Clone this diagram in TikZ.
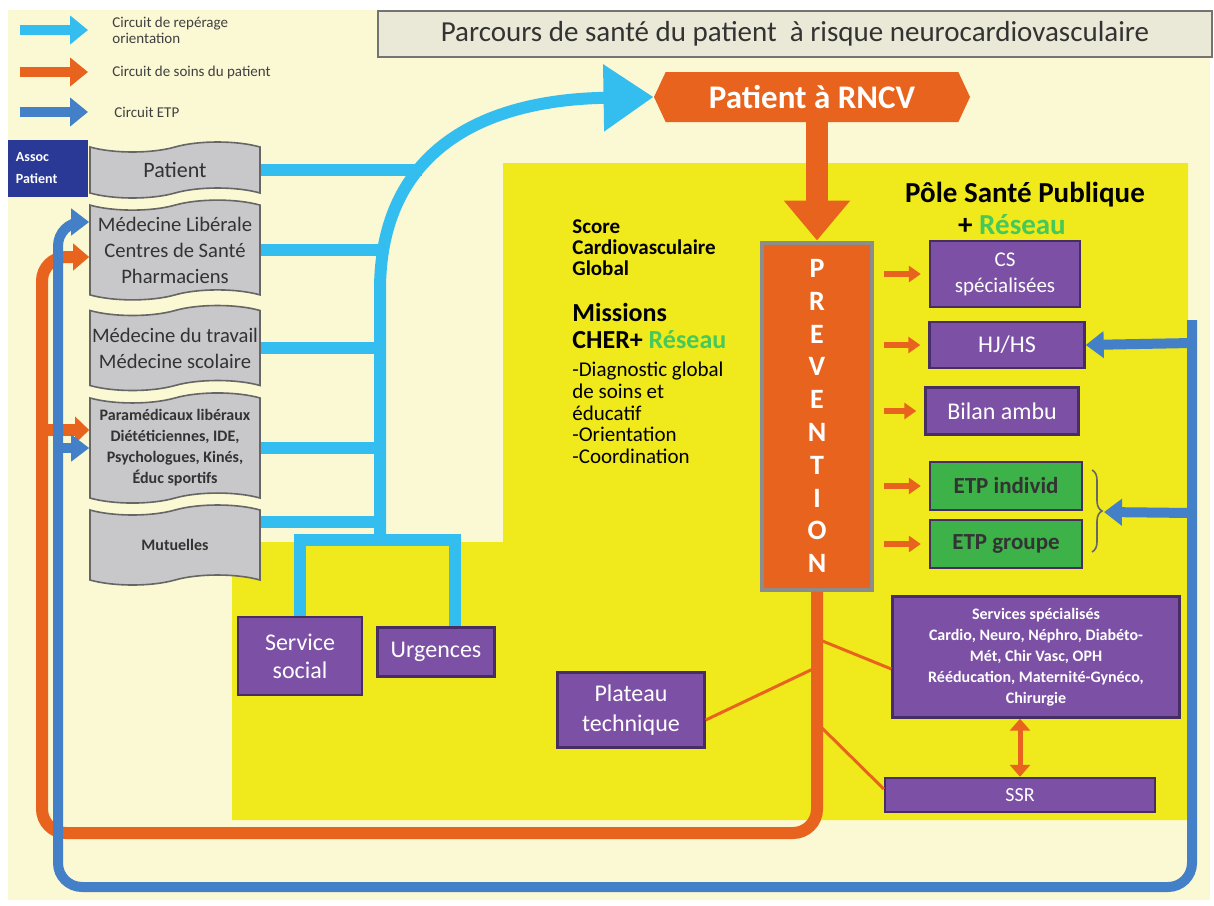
\documentclass[tikz,border=0pt]{standalone}
\usepackage{fontspec}
\setmainfont{Carlito}
\usetikzlibrary{arrows.meta, positioning, shapes.symbols, decorations.pathreplacing, calc}

\definecolor{creme}{RGB}{251,248,212}
\definecolor{jaune}{RGB}{240,233,28}
\definecolor{cyanc}{RGB}{52,190,240}
\definecolor{orangec}{RGB}{232,100,30}
\definecolor{bleuc}{RGB}{68,128,200}
\definecolor{violet}{RGB}{124,80,164}
\definecolor{violetfonce}{RGB}{70,45,100}
\definecolor{vert}{RGB}{60,178,72}
\definecolor{marine}{RGB}{42,56,150}
\definecolor{gris}{RGB}{200,200,202}
\definecolor{reseau}{RGB}{70,200,90}
\definecolor{titre}{RGB}{234,232,214}

\begin{document}
\begin{tikzpicture}[x=0.5pt, y={(0pt,-0.5pt)},
  bande/.style={tape, draw=black!60, fill=gris, line width=0.8pt, minimum width=85pt, inner xsep=0pt, tape bend height=5pt, align=center, text=black!80},
  boite/.style={draw=violetfonce, fill=violet, line width=1.2pt, text=white, align=center, inner sep=1pt},
  boiteverte/.style={boite, fill=vert, text=black!80, font=\bfseries\fontsize{11.5}{13}\selectfont},
  lcyan/.style={draw=cyanc, line width=6pt},
  lorange/.style={draw=orangec, line width=6pt},
  lbleu/.style={draw=bleuc, line width=5pt},
  lien/.style={draw=orangec, line width=1.5pt},
  fleche/.style={draw=orangec, line width=3pt, -{Triangle[length=6pt,width=8pt]}},
  tetebleu/.style={-{Triangle[length=9pt,width=13pt]}},
  legende/.style={anchor=west, align=left, inner sep=0pt, text=black!75, font=\fontsize{7.5}{8}\selectfont}
]
% Fond
\useasboundingbox (0,0) rectangle (1214,905);
\fill[white] (0,0) rectangle (1214,905);
\fill[creme] (8,10) rectangle (1210,900);
\fill[jaune] (503,163) -- (1188,163) -- (1188,820) -- (232,820) -- (232,542) -- (503,542) -- cycle;

% Titre
\node[draw=black!55, fill=titre, line width=1pt, minimum width=417pt, minimum height=23pt, text=black!80, font=\fontsize{14.5}{16}\selectfont] (titre) at (795,34) {Parcours de santé du patient~ à risque neurocardiovasculaire};

% Legende
\node[legende] (leg1) at (112,30) {Circuit de repérage\\orientation};
\node[legende] (leg2) at (112,72) {Circuit de soins du patient};
\node[legende] (leg3) at (114,112) {Circuit ETP};
\draw[cyanc, line width=5pt, -{Triangle[length=9pt,width=14pt]}] ([xshift=-46pt]leg1.west) -- ([xshift=-12pt]leg1.west);
\draw[orangec, line width=5pt, -{Triangle[length=9pt,width=14pt]}] ([xshift=-46pt]leg2.west) -- ([xshift=-12pt]leg2.west);
\draw[bleuc, line width=5pt, -{Triangle[length=9pt,width=14pt]}] ([xshift=-47pt]leg3.west) -- ([xshift=-13pt]leg3.west);

% Acteurs de ville
\node[fill=marine, text=white, font=\bfseries\fontsize{7}{11}\selectfont, align=left, minimum width=40pt, minimum height=28.5pt, text width=32pt] (assoc) at (48,168) {Assoc\\Patient};
\node[bande, minimum height=28pt, font=\fontsize{11}{13}\selectfont] (pat) at (175,170) {Patient};
\node[bande, minimum height=47.5pt, font=\fontsize{10.3}{13}\selectfont] (medlib) at (175,250) {Médecine Libérale\\Centres de Santé\\Pharmaciens};
\node[bande, minimum height=42.5pt, font=\fontsize{10.3}{13}\selectfont] (medtrav) at (175,348) {Médecine du travail\\Médecine scolaire};
\node[bande, minimum height=52.5pt, font=\bfseries\fontsize{8}{10.5}\selectfont] (para) at (175,448) {Paramédicaux libéraux\\Diététiciennes, IDE,\\Psychologues, Kinés,\\Éduc sportifs};
\node[bande, minimum height=40pt, font=\bfseries\fontsize{8}{10}\selectfont] (mut) at (175,545) {Mutuelles};

% Hopital
\node[signal, signal to=east and west, signal pointer angle=130, fill=orangec, text=white, minimum width=158pt, minimum height=25pt, font=\bfseries\fontsize{16.5}{18}\selectfont] (rncv) at (812,97) {Patient à RNCV};
\node[font=\bfseries\fontsize{14.5}{16}\selectfont] (pole) at (1025,195) {Pôle Santé Publique};
\node[font=\bfseries\fontsize{14.5}{16}\selectfont] (poler) at (1012,225) {+ \textcolor{reseau}{Réseau}};
\node[draw=black!45, fill=orangec, line width=2pt, minimum width=55pt, minimum height=173.5pt, text=white, align=center, font=\bfseries\fontsize{14}{16.4}\selectfont] (prev) at (817,416) {P\\R\\E\\V\\E\\N\\T\\I\\O\\N};

\node[anchor=north west, inner sep=0pt, align=left, font=\bfseries\fontsize{10.5}{10.5}\selectfont] (score) at (572,219) {Score\\Cardiovasculaire\\Global};
\node[anchor=north west, inner sep=0pt, align=left, font=\bfseries\fontsize{13}{13.5}\selectfont] (missions) at (572,303) {Missions\\CHER+ \textcolor{reseau}{Réseau}};
\node[anchor=north west, inner sep=0pt, align=left, font=\fontsize{10.5}{10.8}\selectfont] (diag) at (572,362) {-Diagnostic global\\de soins et\\éducatif\\-Orientation\\-Coordination};

\node[boite, minimum width=75pt, minimum height=33pt, font=\fontsize{10.5}{13}\selectfont] (cs) at (1005,274) {CS\\spécialisées};
\node[boite, minimum width=77.5pt, minimum height=23pt, font=\fontsize{12}{13}\selectfont] (hjhs) at (1007,345) {HJ/HS};
\node[boite, minimum width=76.5pt, minimum height=23.5pt, font=\fontsize{12}{13}\selectfont] (bilan) at (1002,411) {Bilan ambu};
\node[boiteverte, minimum width=76pt, minimum height=24pt] (etpi) at (1006,486) {ETP individ};
\node[boiteverte, minimum width=76pt, minimum height=24pt] (etpg) at (1006,544) {ETP groupe};

\node[boite, minimum width=143.5pt, minimum height=60.5pt, font=\bfseries\fontsize{8}{10.5}\selectfont] (ssp) at (1036,657) {Services spécialisés\\Cardio, Neuro, Néphro, Diabéto-\\Mét, Chir Vasc, OPH\\Rééducation, Maternité-Gynéco,\\Chirurgie};
\node[boite, minimum width=135pt, minimum height=17pt, font=\fontsize{10}{12}\selectfont] (ssr) at (1020,795) {SSR};
\node[boite, minimum width=73.5pt, minimum height=37.5pt, font=\fontsize{12}{15}\selectfont] (plat) at (631,710) {Plateau\\technique};
\node[boite, minimum width=62pt, minimum height=39pt, font=\fontsize{12}{14}\selectfont] (ssoc) at (300,656) {Service\\social};
\node[boite, minimum width=58.5pt, minimum height=24.5pt, font=\fontsize{12}{14}\selectfont] (urg) at (436,652) {Urgences};

% Circuit de reperage
\coordinate (tr) at (380,540);
\coordinate (uj) at (455,540);
\coordinate (j1) at (422,170);
\coordinate (j2) at (381,250);
\coordinate (j3) at (380,348);
\coordinate (j4) at (380,448);
\coordinate (j5) at (380,522);
\draw[lcyan, -{Triangle[length=25pt,width=32pt]}] (tr) -- (380,290) .. controls (380,160) and (470,100) .. (rncv.west);
\draw[lcyan] (pat.east) -- (j1);
\draw[lcyan] (medlib.east) -- (j2);
\draw[lcyan] (medtrav.east) -- (j3);
\draw[lcyan] (para.east) -- (j4);
\draw[lcyan] ([yshift=11.5pt]mut.east) -- (j5);
\draw[lcyan] (ssoc.north) |- (uj) -- (uj |- urg.north);

% Circuit de soins
\draw[orangec, line width=11pt, -{Triangle[length=20pt,width=32pt]}] (prev.north |- rncv.south) -- (prev.north);
\coordinate (o1) at (817,833);
\coordinate (o2) at (42,833);
\coordinate (o3) at (42,257);
\coordinate (o4) at (42,430);
\draw[lorange, rounded corners=12pt, -{Triangle[length=8pt,width=13pt]}] (prev.south) -- (o1) -- (o2) -- (o3) -- ([yshift=-3.5pt]medlib.west);
\draw[lorange, -{Triangle[length=7pt,width=13pt]}] (o4) -- ([yshift=9pt]para.west);
\foreach \b in {cs,hjhs,bilan,etpi,etpg}
  \draw[fleche] ($(prev.east |- \b.west)+(10,0)$) -- ($(\b.west)+(-8,0)$);
\coordinate (p1) at (815,668);
\coordinate (p2) at (820,640);
\coordinate (p3) at (822,728);
\draw[lien] (p1) -- ([yshift=-5pt]plat.east);
\draw[lien] (p2) -- ([yshift=-6pt]ssp.west);
\draw[lien] (p3) -- ([yshift=3pt]ssr.west);
\draw[orangec, line width=2.5pt, {Triangle[length=6pt,width=10pt]}-{Triangle[length=6pt,width=10pt]}] (ssr.north |- ssp.south) -- (ssr.north);

% Circuit ETP
\coordinate (b1) at (1192,320);
\coordinate (b2) at (1192,887);
\coordinate (b3) at (58,887);
\coordinate (b4) at (58,222);
\coordinate (b5) at (1192,343);
\coordinate (b6) at (1192,513);
\coordinate (b7) at (58,448);
\coordinate (br1) at (1092,470);
\coordinate (br2) at (1092,552);
\coordinate (brtip) at (1104,512);
\draw[decorate, decoration={brace, amplitude=5pt}, black!60, line width=0.8pt] (br1) -- (br2);
\draw[lbleu, rounded corners=12pt, tetebleu] (b1) -- (b2) -- (b3) -- (b4) -- ([yshift=14pt]medlib.west);
\draw[lbleu, tetebleu] (b5) -- (hjhs.east);
\draw[lbleu, tetebleu] (b6) -- (brtip);
\draw[lbleu, tetebleu] (b7) -- (para.west);
\end{tikzpicture}
\end{document}
